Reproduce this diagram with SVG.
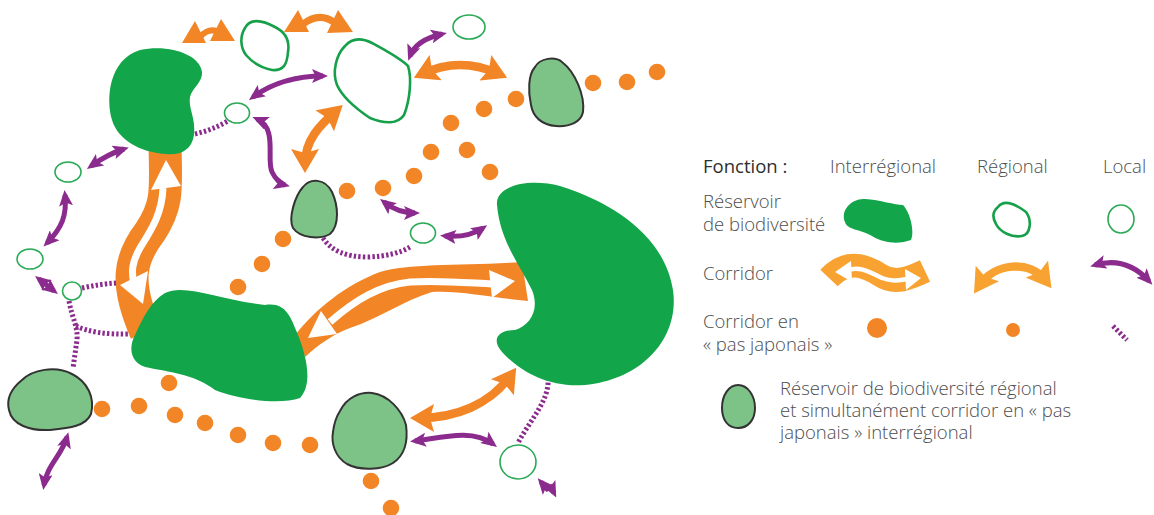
<svg xmlns="http://www.w3.org/2000/svg" width="1154" height="515" viewBox="0 0 1154 515">
<defs>
<style>
.big{fill:#12a54a}
.reg{fill:#fff;stroke:#16a04a;stroke-width:2.6}
.loc{fill:#fff;stroke:#2aaa55;stroke-width:1.6}
.mix{fill:#7dc387;stroke:#333;stroke-width:2}
.dot{fill:#f28627}
.pl{fill:none;stroke:#8b2b8e;stroke-width:5;marker-start:url(#ahp);marker-end:url(#ahp)}
.pd{fill:none;stroke:#8b2b8e;stroke-width:5;stroke-dasharray:2.4 2.2}
.ol{fill:none;stroke:#f28627;stroke-width:8.5;marker-start:url(#aho);marker-end:url(#aho)}
.oll{fill:none;stroke:#f8a331;stroke-width:8.5;marker-start:url(#ahl);marker-end:url(#ahl)}
.of{fill:#f28627}
.wc{fill:none;stroke:#fff;stroke-width:7}
.t{font-family:"Open Sans","Liberation Sans",sans-serif;font-size:18.5px;font-weight:300;fill:#4d4d4d}
.th{font-weight:500;fill:#2e2e2e}
</style>
<marker id="ahp" viewBox="0 0 16 14" markerWidth="16" markerHeight="14" refX="11" refY="7" orient="auto-start-reverse" markerUnits="userSpaceOnUse"><path d="M0,0 L16,7 L0,14 L3.5,7 Z" fill="#8b2b8e"/></marker>
<marker id="aho" viewBox="0 0 24 28" markerWidth="24" markerHeight="28" refX="15" refY="14" orient="auto-start-reverse" markerUnits="userSpaceOnUse"><path d="M0,0 L24,14 L0,28 L4,14 Z" fill="#f28627"/></marker>
<marker id="ahl" viewBox="0 0 24 28" markerWidth="24" markerHeight="28" refX="15" refY="14" orient="auto-start-reverse" markerUnits="userSpaceOnUse"><path d="M0,0 L24,14 L0,28 L4,14 Z" fill="#f8a331"/></marker>
</defs>
<rect width="1154" height="515" fill="#fff"/>

<g id="connectors">
  <!-- interregional corridor: top-left blob <-> middle blob -->
  <path d="M165,146 C166,190 168,205 150,232 C130,258 124,282 146,332" fill="none" stroke="#f28627" stroke-width="33"/>
  <path d="M163,188 C162,215 150,232 140,248 C132,262 131,272 134,283" class="wc"/>
  <polygon points="166,160 151,190 181,186" fill="#fff"/>
  <polygon points="143,304 120,285 148,271" fill="#fff"/>
  <!-- interregional corridor: middle blob <-> right blob -->
  <path class="of" d="M296,334 C315,310 345,285 380,272 C410,263 460,266 522,262 L528,301 C500,299 460,290 432,292 C405,300 380,318 350,328 C335,333 318,345 305,357 Z"/>
  <path d="M330,322 C355,300 380,285 410,282 C440,280 470,283 492,284" class="wc"/>
  <polygon points="515,281 489,270 492,298" fill="#fff"/>
  <polygon points="308,338 321,311 337,334" fill="#fff"/>

  <!-- regional corridors -->
  <polygon class="of" points="182,43 195,21 206,43"/>
  <polygon class="of" points="210,41 221,19 235,41"/>
  <path d="M200,37 Q211,25 223,35" fill="none" stroke="#f28627" stroke-width="6"/>
  <polygon class="of" points="284,32 298,10 309,32"/>
  <polygon class="of" points="327,33 338,10 353,32"/>
  <path d="M302,25 Q319,11 335,23" fill="none" stroke="#f28627" stroke-width="7"/>
  <path class="ol" d="M422,74 Q460,56 499,74"/>
  <path class="ol" d="M336,111 C320,125 305,140 305,164"/>
  <path class="ol" d="M419,418 C455,418 490,405 511,375"/>

  <!-- local corridors -->
  <path class="pl" d="M91,166 Q108,154 124,149"/>
  <path class="pl" d="M65,195 C67,215 62,228 47,243"/>
  <path class="pl" d="M253,97 Q282,76 323,76"/>
  <path class="pl" d="M257,119 C278,128 266,160 272,172 C276,180 281,184 285,185"/>
  <path class="pl" d="M410,56 Q416,40 442,34"/>
  <path class="pl" d="M384,202 Q398,213 415,213"/>
  <path class="pl" d="M445,236 Q468,238 483,228"/>
  <path class="pl" d="M39,279 L54,291"/>
  <path class="pl" d="M67,437 C62,455 47,465 44,485"/>
  <path class="pl" d="M415,441 C440,438 472,428 493,444"/>
  <path class="pl" d="M541,482 L547,489 L551,487 L554,493"/>

  <!-- local stepping stones -->
  <path class="pd" d="M195,134 Q212,130 228,121"/>
  <path class="pd" d="M323,238 Q335,257 368,257 Q395,256 410,247"/>
  <path class="pd" d="M82,288 Q100,284 116,283"/>
  <path class="pd" d="M69,301 C72,318 78,326 77,340 L73,368"/>
  <path class="pd" d="M76,326 Q95,335 130,334"/>
  <path class="pd" d="M548,378 C550,400 530,420 518,443"/>

  <!-- interregional stepping stones -->
  <g class="dot">
    <circle cx="593" cy="83" r="8.3"/><circle cx="627" cy="82" r="8.3"/><circle cx="657" cy="72" r="8.3"/>
    <circle cx="516" cy="99" r="8.3"/><circle cx="484" cy="109" r="8.3"/><circle cx="451" cy="123" r="8.3"/>
    <circle cx="431" cy="152" r="8.3"/><circle cx="414" cy="176" r="8.3"/><circle cx="467" cy="150" r="8.3"/>
    <circle cx="490" cy="172" r="8.3"/><circle cx="347" cy="191" r="8.3"/><circle cx="383" cy="188" r="8.3"/>
    <circle cx="283" cy="239" r="8.3"/><circle cx="262" cy="264" r="8.3"/><circle cx="238" cy="287" r="8.3"/>
    <circle cx="169" cy="383" r="8.3"/><circle cx="102" cy="409" r="8.3"/><circle cx="139" cy="406" r="8.3"/>
    <circle cx="175" cy="415" r="8.3"/><circle cx="205" cy="423" r="8.3"/><circle cx="238" cy="435" r="8.3"/>
    <circle cx="273" cy="443" r="8.3"/><circle cx="310" cy="445" r="8.3"/><circle cx="371" cy="481" r="8.3"/>
    <circle cx="391" cy="508" r="8.3"/>
  </g>
</g>

<!-- interregional reservoirs -->
<g id="res-topleft"><path class="big" d="M140,50 C170,44 200,55 202,72 C203,82 192,88 190,97 C188,108 196,118 194,135 C192,150 180,156 165,154 C140,152 118,140 112,120 C106,100 108,60 140,50 Z"/></g>
<g id="res-middle"><path class="big" d="M165,293 C185,283 220,300 265,305 C285,302 290,315 298,335 C308,360 312,385 300,398 C280,405 240,400 215,390 C195,375 175,373 150,368 C130,365 128,348 135,335 C142,320 150,302 165,293 Z"/></g>
<g id="res-right"><path class="big" d="M497,205 C495,185 530,178 560,186 C620,205 665,240 673,290 C680,340 640,380 585,385 C550,388 520,372 502,352 C490,338 500,330 515,330 C530,325 540,310 532,290 C518,262 500,240 497,205 Z"/></g>

<!-- regional reservoirs -->
<g id="reg-small"><path class="reg" d="M245,28 C250,18 262,20 275,27 C285,32 290,40 288,52 C287,64 284,71 272,70 C262,68 252,62 246,55 C240,47 240,36 245,28 Z"/></g>
<g id="reg-large"><path class="reg" d="M345,46 C352,38 362,38 372,43 C385,50 400,58 408,66 C412,78 410,100 404,115 C398,124 385,124 370,118 C355,108 343,98 337,85 C332,72 336,55 345,46 Z"/></g>

<!-- local reservoirs -->
<g id="loc-1"><ellipse class="loc" cx="237" cy="113" rx="12.5" ry="10"/></g>
<g id="loc-2"><ellipse class="loc" cx="68" cy="172" rx="13" ry="10"/></g>
<g id="loc-3"><ellipse class="loc" cx="30" cy="259" rx="13" ry="10"/></g>
<g id="loc-4"><ellipse class="loc" cx="72" cy="291" rx="9.5" ry="9"/></g>
<g id="loc-5"><ellipse class="loc" cx="469" cy="27" rx="16" ry="12"/></g>
<g id="loc-6"><ellipse class="loc" cx="423" cy="233" rx="12.5" ry="10"/></g>
<g id="loc-7"><ellipse class="loc" cx="518" cy="462" rx="18" ry="17"/></g>

<!-- mixed reservoirs -->
<g id="mix-1"><path class="mix" d="M303,187 C310,178 325,178 332,192 C338,205 340,225 330,234 C320,240 300,238 293,228 C288,218 295,196 303,187 Z"/></g>
<g id="mix-2"><path class="mix" d="M535,67 C540,58 555,56 562,62 C575,72 585,95 583,112 C581,122 570,127 556,126 C542,125 533,117 531,105 C528,92 528,75 535,67 Z"/></g>
<g id="mix-3"><path class="mix" d="M22,380 C32,370 55,365 72,374 C88,382 95,398 91,414 C86,426 70,428 50,430 C30,431 12,425 9,410 C6,398 12,388 22,380 Z"/></g>
<g id="mix-4"><path class="mix" d="M340,411 C347,397 360,392 372,393 C388,395 402,410 406,425 C408,440 405,455 393,463 C382,470 360,471 347,464 C335,457 331,443 333,432 C334,424 336,417 340,411 Z"/></g>

<!-- legend -->
<g id="legend">
  <text class="t th" x="703" y="173">Fonction :</text>
  <text class="t" x="830" y="173">Interrégional</text>
  <text class="t" x="977" y="173">Régional</text>
  <text class="t" x="1103" y="173">Local</text>
  <text class="t" x="703" y="208">Réservoir</text>
  <text class="t" x="703" y="231">de biodiversité</text>
  <text class="t" x="703" y="280">Corridor</text>
  <text class="t" x="703" y="328">Corridor en</text>
  <text class="t" x="703" y="351">« pas japonais »</text>
  <path class="big" d="M845,222 C840,210 852,198 865,199 C880,200 895,205 903,205 C910,212 915,232 911,240 C900,244 885,244 872,236 C860,229 847,230 845,222 Z"/>
  <path class="reg" d="M998,207 C1005,198 1018,206 1026,212 C1032,220 1031,234 1022,236 C1012,238 1000,232 996,224 C992,217 993,211 998,207 Z"/>
  <ellipse class="loc" cx="1121" cy="219" rx="13" ry="14"/>
  <path d="M829,278 C848,258 866,266 880,275 C895,285 910,278 925,271" fill="none" stroke="#f8a331" stroke-width="24"/>
  <path d="M846,271 C858,265 870,272 882,278 C893,282 900,280 907,279" fill="none" stroke="#fff" stroke-width="4.5"/>
  <polygon points="835,272 851,261 852,282" fill="#fff"/>
  <polygon points="921,278 905,269 906,290" fill="#fff"/>
  <path class="oll" d="M979,286 C995,262 1030,260 1046,281"/>
  <path class="pl" d="M1095,265 Q1126,256 1149,281"/>
  <circle cx="877" cy="328" r="10" fill="#f28627"/>
  <circle cx="1013" cy="330" r="7" fill="#f28627"/>
  <path class="pd" d="M1113,326 L1127,340"/>
  <path class="mix" d="M738,385 C748,385 755,396 755,408 C755,420 748,428 738,428 C728,428 722,420 722,408 C722,395 729,385 738,385 Z"/>
  <text class="t" x="780" y="395">Réservoir de biodiversité régional</text>
  <text class="t" x="780" y="417">et simultanément corridor en « pas</text>
  <text class="t" x="780" y="439">japonais » interrégional</text>
</g>
</svg>
